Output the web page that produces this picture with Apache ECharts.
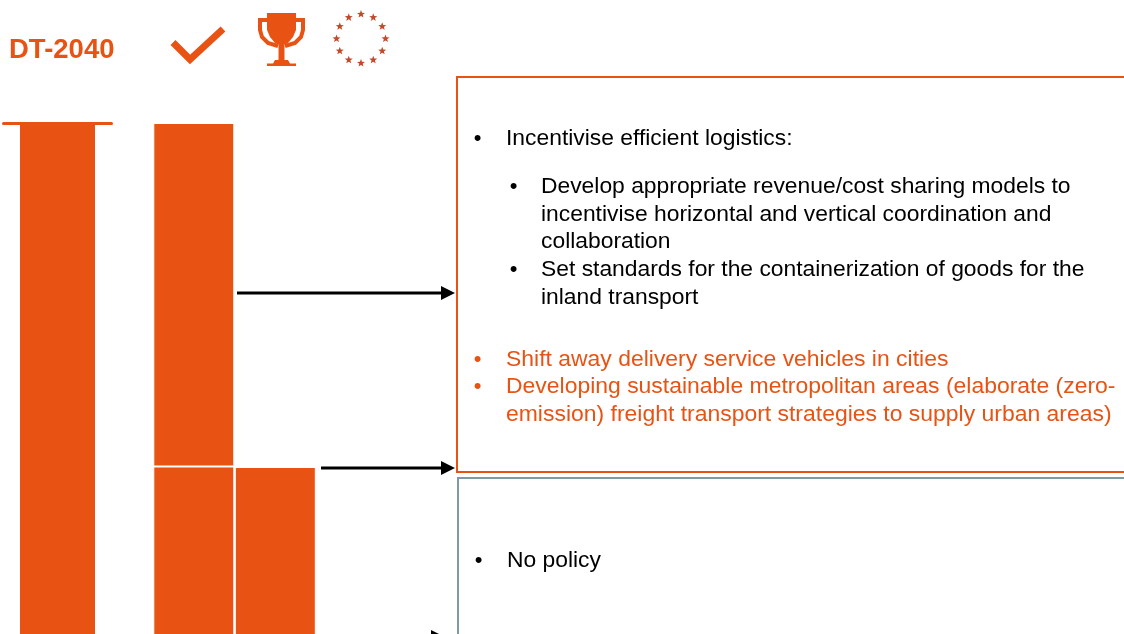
<!DOCTYPE html>
<html>
<head>
<meta charset="utf-8">
<title>DT-2040</title>
<script src="https://cdn.jsdelivr.net/npm/echarts@6/dist/echarts.min.js"></script>
<style>
  html, body { margin: 0; padding: 0; background: #fff; overflow: hidden; }
  #chart { width: 1124px; height: 634px; }
</style>
</head>
<body>
<div id="chart"></div>
<script>
const scenarioCategories = ['DT-2040'];
const scenarioValues = [100];
const policyCategories = ['Achieved', 'Target', 'EU'];
const policyLower = [46.33, 46.25, null];
const policyUpper = [53.67, null, null];

const textBlack = ['Incentivise efficient logistics:', 'No policy'];
const subBullets = [
  ['Develop appropriate revenue/cost sharing models to', 'incentivise horizontal and vertical coordination and', 'collaboration'],
  ['Set standards for the containerization of goods for the', 'inland transport']
];
const orangeBullets = [
  ['Shift away delivery service vehicles in cities'],
  ['Developing sustainable metropolitan areas (elaborate (zero-', 'emission) freight transport strategies to supply urban areas)']
];

const ORANGE = '#E85314';
const GREY = '#7F9AA5';
const FONT = '"Liberation Sans", Arial, sans-serif';

function label(x, y, text, fill, size) {
  return {
    type: 'text', silent: true,
    style: { x: x, y: y, text: text, fill: fill, font: (size || 22.85) + 'px ' + FONT, textVerticalAlign: 'middle' }
  };
}

function bullet(x, y, fill) {
  return {
    type: 'text', silent: true,
    style: { x: x, y: y + 1.5, text: '•', fill: fill, font: '22px ' + FONT, textAlign: 'center', textVerticalAlign: 'middle' }
  };
}

function arrow(x1, x2, y) {
  return [
    { type: 'line', shape: { x1: x1, y1: y, x2: x2 - 12, y2: y }, style: { stroke: '#000', lineWidth: 3 } },
    { type: 'polygon', shape: { points: [[x2 - 14, y - 7], [x2, y], [x2 - 14, y + 7]] }, style: { fill: '#000' } }
  ];
}

function star(cx, cy, r) {
  const pts = [];
  for (let i = 0; i < 10; i++) {
    const a = -Math.PI / 2 + i * Math.PI / 5;
    const rr = i % 2 ? r * 0.42 : r;
    pts.push([cx + rr * Math.cos(a), cy + rr * Math.sin(a)]);
  }
  return { type: 'polygon', shape: { points: pts }, style: { fill: '#C24A2A' } };
}

const graphics = [
  { type: 'text', style: { x: 9, y: 50, text: scenarioCategories[0], fill: ORANGE, font: 'bold 27.5px ' + FONT, textVerticalAlign: 'middle' } },
  // check mark
  { type: 'polyline', shape: { points: [[173, 42.5], [190, 59.5], [223, 29]] }, style: { stroke: ORANGE, lineWidth: 7, fill: 'none', lineJoin: 'miter' } },
  // trophy
  { type: 'rect', shape: { x: 267, y: 13, width: 29, height: 4 }, style: { fill: ORANGE } },
  { type: 'polygon', shape: { points: [[267, 17], [296, 17], [296, 30], [293, 37], [288, 43], [281.5, 46], [275, 43], [270, 37], [267, 30]] }, style: { fill: ORANGE } },
  { type: 'polyline', shape: { points: [[267, 20], [260, 20], [260, 30], [262, 37], [268, 43], [278, 46]] }, style: { stroke: ORANGE, lineWidth: 4, fill: 'none' } },
  { type: 'polyline', shape: { points: [[296, 20], [303, 20], [303, 30], [301, 37], [295, 43], [285, 46]] }, style: { stroke: ORANGE, lineWidth: 4, fill: 'none' } },
  { type: 'rect', shape: { x: 278.5, y: 45, width: 6, height: 16 }, style: { fill: ORANGE } },
  { type: 'polygon', shape: { points: [[267, 66], [267, 63.5], [273, 63.5], [275, 60], [288, 60], [290, 63.5], [296, 63.5], [296, 66]] }, style: { fill: ORANGE } },
  // boxes
  { type: 'polyline', shape: { points: [[1130, 77], [457, 77], [457, 472], [1130, 472]] }, style: { stroke: ORANGE, lineWidth: 2, fill: 'none' } },
  { type: 'polyline', shape: { points: [[1130, 478], [458, 478], [458, 640]] }, style: { stroke: GREY, lineWidth: 2, fill: 'none' } }
];

// ring of EU stars
for (let i = 0; i < 12; i++) {
  const a = i * Math.PI / 6;
  graphics.push(star(361 + 24.5 * Math.sin(a), 38.7 - 24.5 * Math.cos(a), 4.2));
}

graphics.push(...arrow(237, 455, 293), ...arrow(321, 455, 468), ...arrow(400, 445, 637));

// box texts
graphics.push(bullet(477.5, 137, '#000'), label(506, 138.5, textBlack[0], '#000'));
const subY = [[185, 213, 240], [268, 296]];
subBullets.forEach((lines, i) => {
  graphics.push(bullet(513.5, subY[i][0], '#000'));
  lines.forEach((t, j) => graphics.push(label(541, subY[i][j] + 1.5, t, '#000')));
});
const orangeY = [[358], [385, 413]];
orangeBullets.forEach((lines, i) => {
  graphics.push(bullet(477.5, orangeY[i][0], ORANGE));
  lines.forEach((t, j) => graphics.push(label(506, orangeY[i][j] + 1.5, t, ORANGE, 22.95)));
});
graphics.push(bullet(478.5, 559, '#000'), label(507, 560.5, textBlack[1], '#000'));

const chart = echarts.init(document.getElementById('chart'), null, { renderer: 'canvas' });
chart.setOption({
  animation: false,
  backgroundColor: '#fff',
  grid: [
    { left: 3.5, top: 123, width: 108, height: 640, outerBoundsMode: 'none' },
    { left: 153.05, top: 123, width: 244.5, height: 640, outerBoundsMode: 'none' }
  ],
  xAxis: [
    {
      type: 'category', gridIndex: 0, position: 'top', data: scenarioCategories,
      axisLine: { show: true, onZero: false, lineStyle: { color: ORANGE, width: 3 } },
      axisTick: { show: false }, axisLabel: { show: false }
    },
    {
      type: 'category', gridIndex: 1, data: policyCategories,
      axisLine: { show: false }, axisTick: { show: false }, axisLabel: { show: false }
    }
  ],
  yAxis: [
    { type: 'value', gridIndex: 0, min: 0, max: 100, show: false },
    { type: 'value', gridIndex: 1, min: 0, max: 100, show: false }
  ],
  series: [
    {
      type: 'bar', xAxisIndex: 0, yAxisIndex: 0, data: scenarioValues, barWidth: 75,
      itemStyle: { color: ORANGE }, silent: true
    },
    {
      type: 'bar', xAxisIndex: 1, yAxisIndex: 1, stack: 'policy', data: policyLower, barWidth: 81,
      itemStyle: { color: ORANGE, borderColor: '#fff', borderWidth: 1 }, silent: true
    },
    {
      type: 'bar', xAxisIndex: 1, yAxisIndex: 1, stack: 'policy', data: policyUpper, barWidth: 81,
      itemStyle: { color: ORANGE, borderColor: '#fff', borderWidth: 1 }, silent: true
    }
  ],
  graphic: { elements: graphics }
});
</script>
</body>
</html>
